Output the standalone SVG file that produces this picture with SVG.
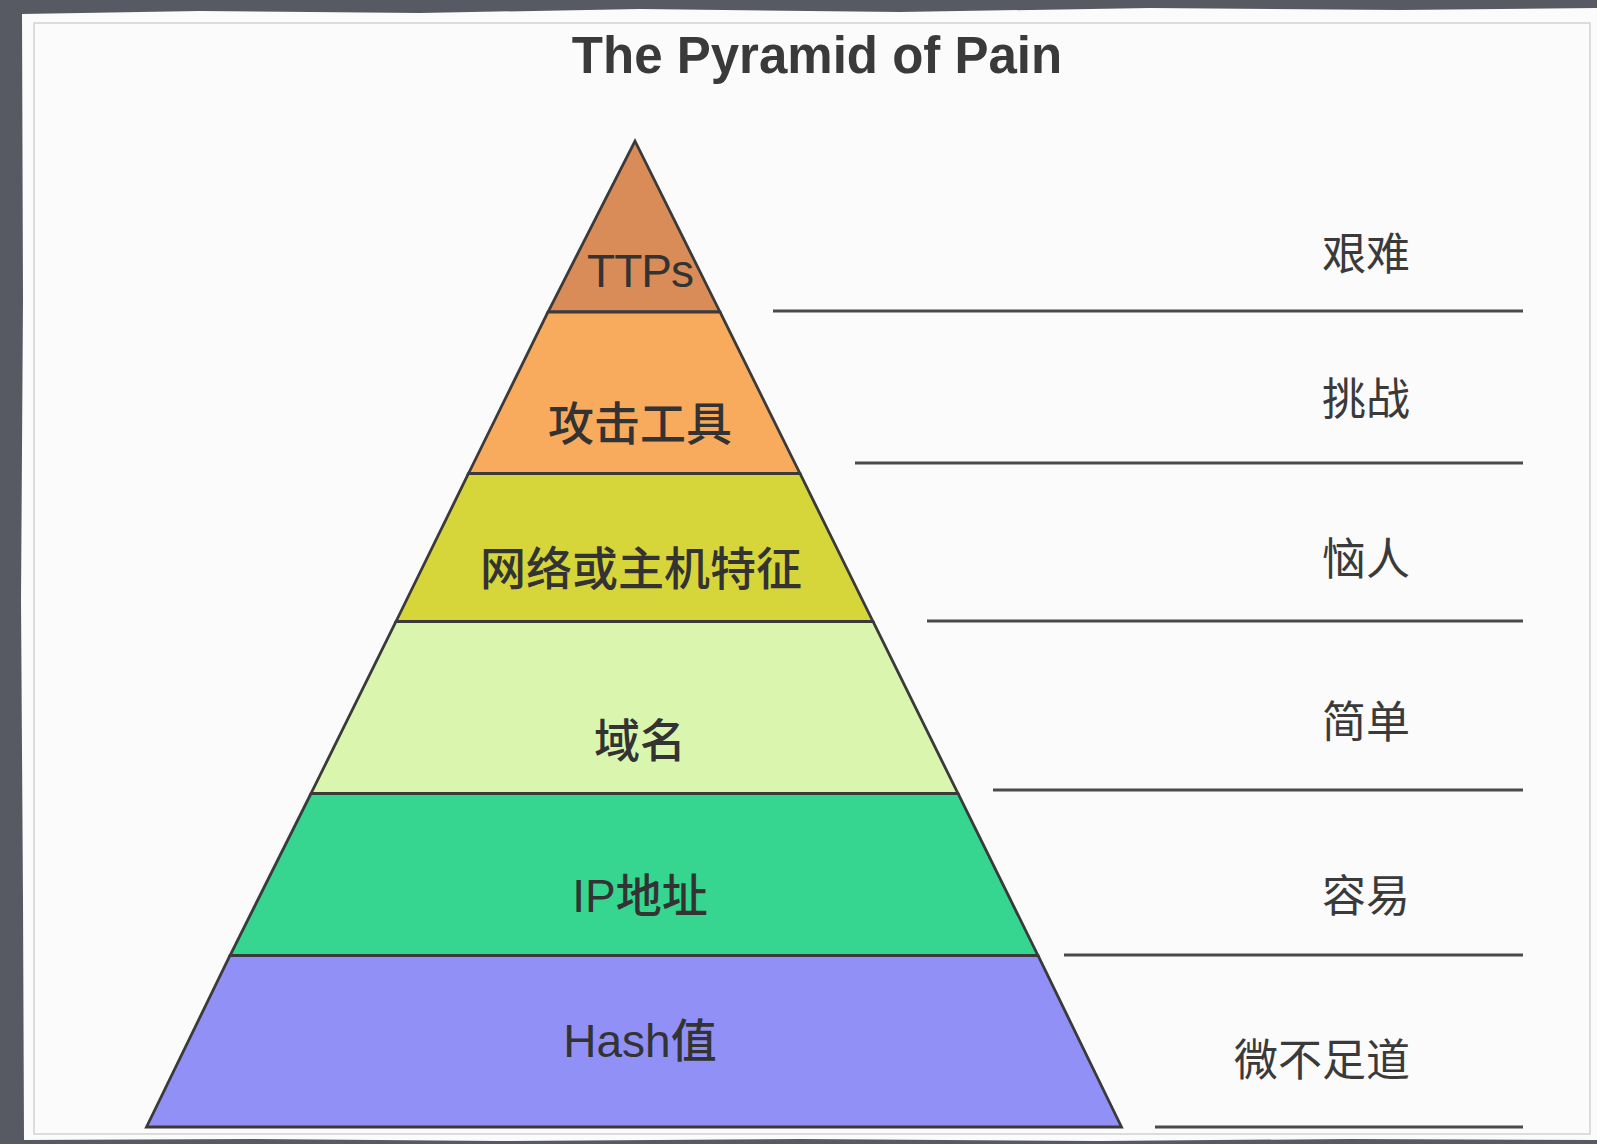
<svg xmlns="http://www.w3.org/2000/svg" width="1597" height="1144" viewBox="0 0 1597 1144">
  <defs>
    <style>
      .layer { stroke: #3a3a3a; stroke-width: 2.8; stroke-linejoin: miter; }
      .lbl { font-family: "Liberation Sans", "Noto Sans CJK SC", sans-serif; font-size: 46px; fill: #333333; text-anchor: middle; }
      .cjk { font-family: "Noto Sans CJK SC", "Liberation Sans", sans-serif; font-weight: 500; }
      .side { font-family: "Noto Sans CJK SC", "Liberation Sans", sans-serif; font-size: 44px; fill: #3a3a3a; text-anchor: end; }
      .sep { stroke: #4a4a4a; stroke-width: 3; fill: none; }
      .title { font-family: "Liberation Sans", Arial, sans-serif; font-weight: bold; font-size: 51px; fill: #3a3a3a; text-anchor: middle; }
    </style>
  </defs>

  <!-- background and paper -->
  <rect x="0" y="0" width="1597" height="1144" fill="#585a63"/>
  <path d="M22,14 L200,11 L420,13 L640,9 L900,12 L1150,8 L1400,10 L1597,8 L1597,1140 L1350,1139 L1100,1141 L800,1139 L500,1141 L250,1139 L24,1140 L23,900 L21,600 L23,300 Z" fill="#fbfbfb"/>
  <rect x="34" y="23" width="1556" height="1111" fill="none" stroke="#d2d2d2" stroke-width="1.5"/>

  <text class="title" x="817" y="73">The Pyramid of Pain</text>

  <!-- pyramid layers -->
  <g id="layer-ttps">
    <polygon class="layer" points="635,141 720,312 548,312" fill="#d98c57"/>
    <text class="lbl" x="640" y="287" letter-spacing="-1">TTPs</text>
  </g>
  <g id="layer-tools">
    <polygon class="layer" points="548,312 720,312 800,473.5 468.5,473.5" fill="#f8aa5d"/>
    <text class="lbl cjk" x="640" y="440">攻击工具</text>
  </g>
  <g id="layer-artifacts">
    <polygon class="layer" points="468.5,473.5 800,473.5 873,621.5 396,621.5" fill="#d6d63a"/>
    <text class="lbl cjk" x="641" y="585">网络或主机特征</text>
  </g>
  <g id="layer-domain">
    <polygon class="layer" points="396,621.5 873,621.5 958,793.5 311,793.5" fill="#daf6ae"/>
    <text class="lbl cjk" x="640" y="757">域名</text>
  </g>
  <g id="layer-ip">
    <polygon class="layer" points="311,793.5 958,793.5 1038,955.5 230,955.5" fill="#36d690"/>
    <text class="lbl" x="640" y="912">IP<tspan class="cjk">地址</tspan></text>
  </g>
  <g id="layer-hash">
    <polygon class="layer" points="230,955.5 1038,955.5 1121.5,1127 146.5,1127" fill="#9090f6"/>
    <text class="lbl" x="640" y="1057">Hash<tspan class="cjk">值</tspan></text>
  </g>

  <!-- separator lines -->
  <g id="connectors">
    <line class="sep" x1="773" y1="311" x2="1523" y2="311"/>
    <line class="sep" x1="855" y1="463" x2="1523" y2="463"/>
    <line class="sep" x1="927" y1="621" x2="1523" y2="621"/>
    <line class="sep" x1="993" y1="790" x2="1523" y2="790"/>
    <line class="sep" x1="1064" y1="955" x2="1523" y2="955"/>
    <line class="sep" x1="1155" y1="1127" x2="1523" y2="1127"/>
  </g>

  <!-- difficulty labels -->
  <g id="label-hard"><text class="side" x="1410" y="270">艰难</text></g>
  <g id="label-challenging"><text class="side" x="1410" y="415">挑战</text></g>
  <g id="label-annoying"><text class="side" x="1410" y="575">恼人</text></g>
  <g id="label-simple"><text class="side" x="1410" y="738">简单</text></g>
  <g id="label-easy"><text class="side" x="1410" y="912">容易</text></g>
  <g id="label-trivial"><text class="side" x="1410" y="1076">微不足道</text></g>
</svg>
